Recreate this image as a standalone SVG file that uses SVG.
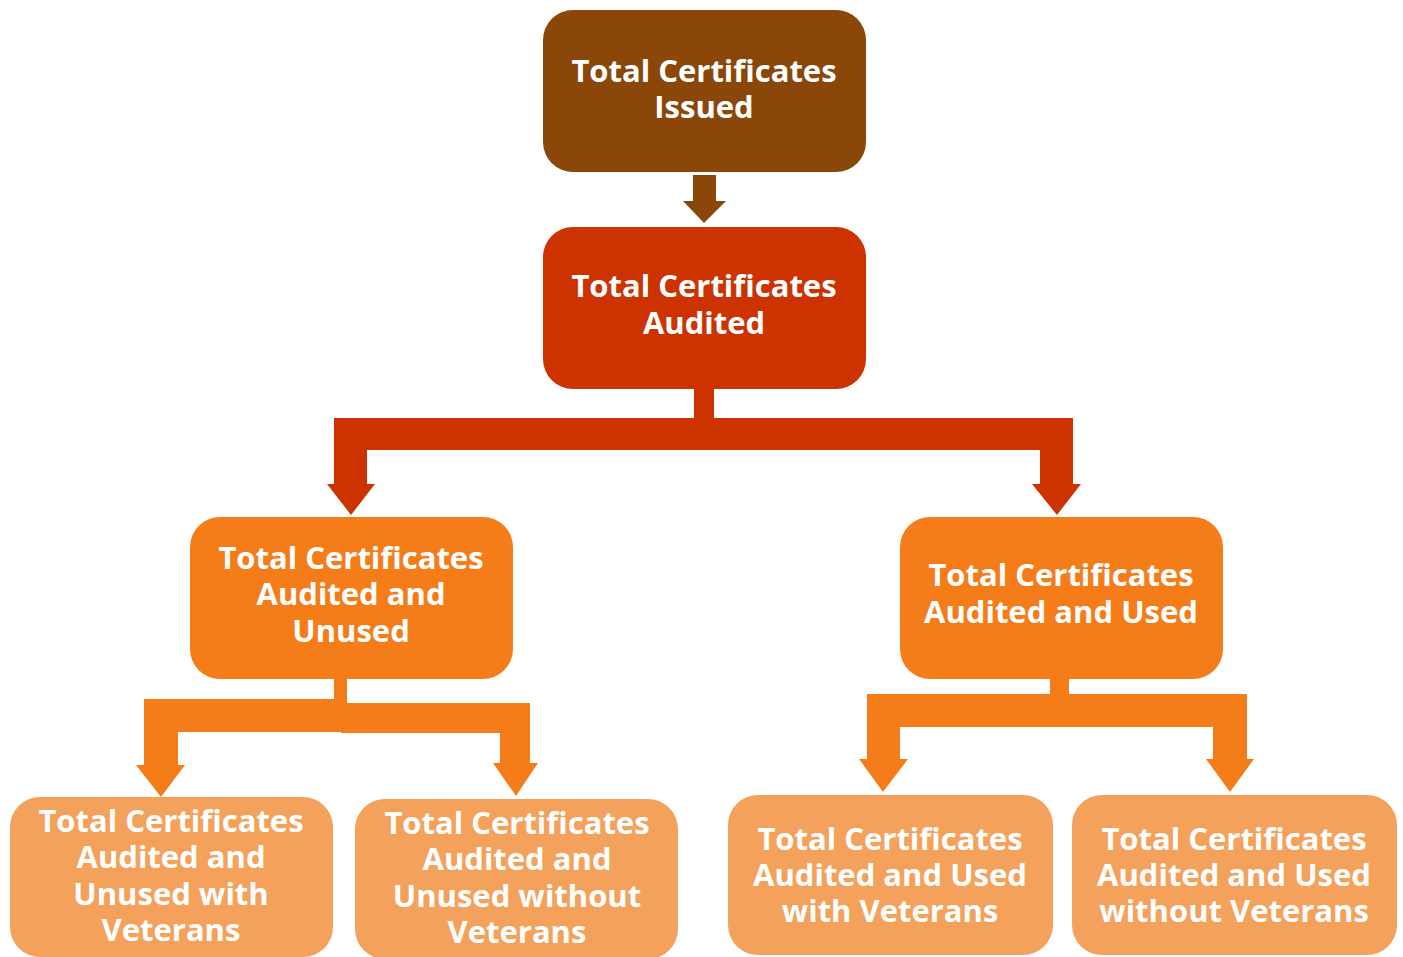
<svg xmlns="http://www.w3.org/2000/svg" width="1403" height="957" viewBox="0 0 1403 957">
<style>
.t{font-family:"Open Sans","Noto Sans","Liberation Sans",sans-serif;font-weight:bold;font-size:31px;fill:#ffffff;text-anchor:middle}
.c1{fill:#8B4709}
.c2{fill:#CC3300}
.c3{fill:#F47D1A}
.c4{fill:#F4A25B}
</style>
<rect width="1403" height="957" fill="#ffffff"/>
<g id="connectors">
<polygon class="c1" points="693,175 716,175 716,201 726,201 704,223 683,201 693,201"/>
<polygon class="c2" points="694,389 714,389 714,418 1073,418 1073,484 1081,484 1057,515 1032,484 1040,484 1040,450 367,450 367,484 375,484 351,515 327,484 334,484 334,418 694,418"/>
<polygon class="c3" points="334,679 347,679 347,703 530,703 530,763 538,763 516,796 493,763 500,763 500,733 341,733 341,732 178,732 178,765 185,765 161,797 136,765 144,765 144,699 334,699"/>
<polygon class="c3" points="1050,679 1069,679 1069,694 1247,694 1247,759 1254,759 1230,792 1206,759 1213,759 1213,727 900,727 900,759 908,759 883,792 859,759 867,759 867,694 1050,694"/>
</g>
<g id="n1"><rect class="c1" x="543" y="10" width="323" height="162" rx="30"/><text class="t" x="704" y="82">Total Certificates</text><text class="t" x="704" y="118">Issued</text></g>
<g id="n2"><rect class="c2" x="543" y="227" width="323" height="162" rx="30"/><text class="t" x="704" y="297">Total Certificates</text><text class="t" x="704" y="334">Audited</text></g>
<g id="n3"><rect class="c3" x="190" y="517" width="323" height="162" rx="30"/><text class="t" x="351" y="569">Total Certificates</text><text class="t" x="351" y="605">Audited and</text><text class="t" x="351" y="642">Unused</text></g>
<g id="n4"><rect class="c3" x="900" y="517" width="323" height="162" rx="30"/><text class="t" x="1061" y="586">Total Certificates</text><text class="t" x="1061" y="623">Audited and Used</text></g>
<g id="n5"><rect class="c4" x="10" y="797" width="323" height="160" rx="30"/><text class="t" x="171" y="832">Total Certificates</text><text class="t" x="171" y="868">Audited and</text><text class="t" x="171" y="905">Unused with</text><text class="t" x="171" y="941">Veterans</text></g>
<g id="n6"><rect class="c4" x="355" y="799" width="323" height="160" rx="30"/><text class="t" x="517" y="834">Total Certificates</text><text class="t" x="517" y="870">Audited and</text><text class="t" x="517" y="907">Unused without</text><text class="t" x="517" y="943">Veterans</text></g>
<g id="n7"><rect class="c4" x="728" y="795" width="325" height="160" rx="30"/><text class="t" x="890" y="850">Total Certificates</text><text class="t" x="890" y="886">Audited and Used</text><text class="t" x="890" y="922">with Veterans</text></g>
<g id="n8"><rect class="c4" x="1072" y="795" width="325" height="160" rx="30"/><text class="t" x="1234" y="850">Total Certificates</text><text class="t" x="1234" y="886">Audited and Used</text><text class="t" x="1234" y="922">without Veterans</text></g>
</svg>
